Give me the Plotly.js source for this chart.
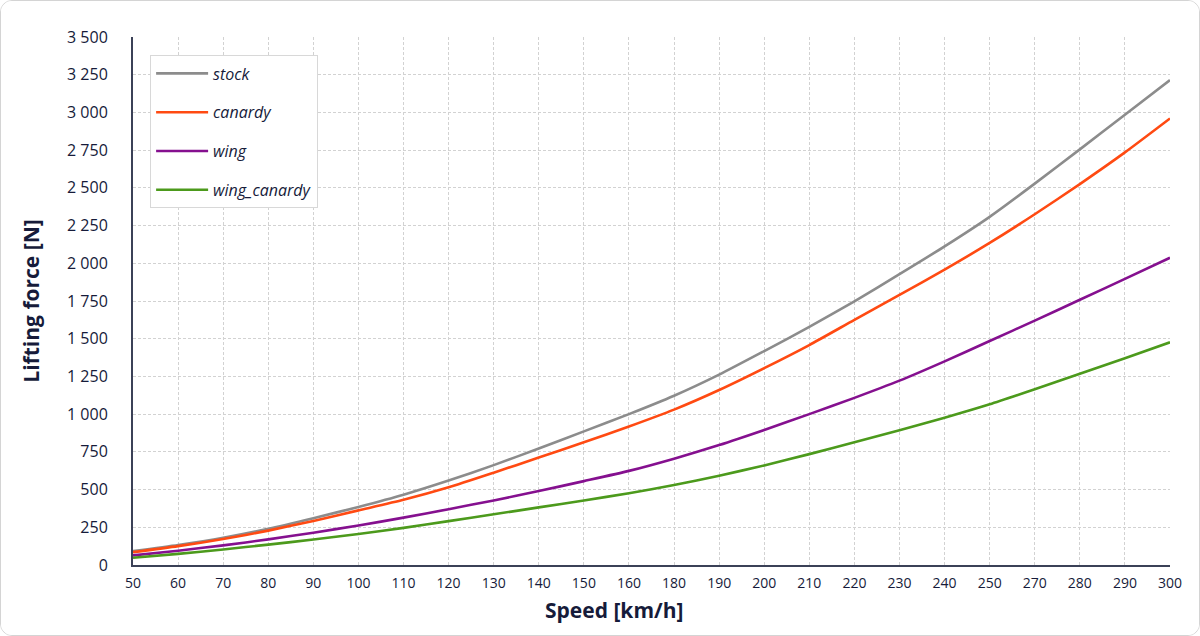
<!DOCTYPE html>
<html>
<head>
<meta charset="utf-8">
<script src="https://cdn.plot.ly/plotly-3.0.1.min.js"></script>
<style>
	html, body { margin: 0; padding: 0; background: #ffffff; }
	#frame {
		position: absolute; left: 0; top: 0;
		width: 1198px; height: 634px;
		border: 1px solid #d4d4d4; border-radius: 12px;
		overflow: hidden; background: #ffffff;
	}
	#chart { width: 1198px; height: 634px; }
</style>
</head>
<body>
<div id="frame"><div id="chart"></div></div>
<script>
// speeds shown on the category axis (170 and 260 are not in the source)
var speeds = ["50", "60", "70", "80", "90", "100", "110", "120", "130", "140", "150", "160",
	"180", "190", "200", "210", "220", "230", "240", "250", "270", "280", "290", "300"];

var stock = [92, 132, 180, 240, 310, 385, 466, 560, 662, 772, 886, 1000,
	1122, 1262, 1418, 1578, 1748, 1928, 2112, 2308, 2528, 2755, 2985, 3214];
var canardy = [85, 125, 172, 228, 292, 362, 432, 515, 612, 712, 813, 918,
	1030, 1160, 1305, 1458, 1625, 1790, 1958, 2135, 2325, 2525, 2735, 2960];
var wing = [64, 95, 130, 170, 214, 262, 314, 370, 428, 490, 556, 624,
	705, 795, 895, 1000, 1108, 1222, 1350, 1485, 1620, 1758, 1897, 2037];
var wing_canardy = [48, 74, 103, 135, 169, 205, 246, 291, 336, 382, 428, 476,
	530, 592, 660, 735, 813, 893, 976, 1065, 1165, 1268, 1370, 1476];

var series_names = ["stock", "canardy", "wing", "wing_canardy"];
var series_colors = ["#8c8c8c", "#ff4a12", "#85108f", "#4c9a1c"];

var y_ticks = [0, 250, 500, 750, 1000, 1250, 1500, 1750, 2000, 2250, 2500, 2750, 3000, 3250, 3500];

var ink = "#161b3a";

function make_trace(values, i)
{
	return {
		type: "scatter",
		mode: "lines",
		name: series_names[i],
		legendgroup: series_names[i],
		x: speeds,
		y: values,
		line: { color: series_colors[i], width: 2.6, shape: "spline", smoothing: 0.6 },
		hoverinfo: "x+y+name"
	};
}

var data = [stock, canardy, wing, wing_canardy].map(make_trace);

var layout =
{
	width: 1198,
	height: 634,
	margin: { l: 132, r: 29, t: 36, b: 70 },
	paper_bgcolor: "#ffffff",
	plot_bgcolor: "#ffffff",
	separators: ", ",
	font: { family: "Open Sans, sans-serif", color: ink },
	showlegend: true,
	legend: {
		x: 0.0165, y: 0.965,
		xanchor: "left", yanchor: "top",
		bgcolor: "#ffffff",
		bordercolor: "#d8d8d8",
		borderwidth: 1,
		font: { size: 16, color: ink, style: "italic" },
		tracegroupgap: 15,
		itemwidth: 52
	},
	xaxis: {
		type: "category",
		range: [0, 23],
		showline: true,
		linecolor: "#3b4157",
		linewidth: 2,
		showgrid: true,
		gridcolor: "#d2d2d2",
		griddash: "3px,2px",
		gridwidth: 1,
		ticks: "",
		tickfont: { size: 14, color: ink },
		ticklabelstandoff: 4,
		zeroline: false,
		fixedrange: true
	},
	yaxis: {
		range: [0, 3500],
		tickvals: y_ticks,
		tickformat: ",d",
		showline: true,
		linecolor: "#3b4157",
		linewidth: 2,
		showgrid: true,
		gridcolor: "#d2d2d2",
		griddash: "3px,2px",
		gridwidth: 1,
		ticks: "",
		tickfont: { size: 16, color: ink },
		ticklabelstandoff: 20,
		zeroline: false,
		title: {
			text: "Lifting force [N]",
			font: { size: 21, color: ink, weight: "bold" },
			standoff: 22
		},
		fixedrange: true
	},
	annotations: [{
		text: "Speed [km/h]",
		xref: "paper", yref: "paper",
		x: 0.464, y: -0.085,
		xanchor: "center", yanchor: "middle",
		showarrow: false,
		font: { size: 21, color: ink, weight: "bold" }
	}]
};

Plotly.newPlot("chart", data, layout, { displayModeBar: false, staticPlot: true });
</script>
</body>
</html>
